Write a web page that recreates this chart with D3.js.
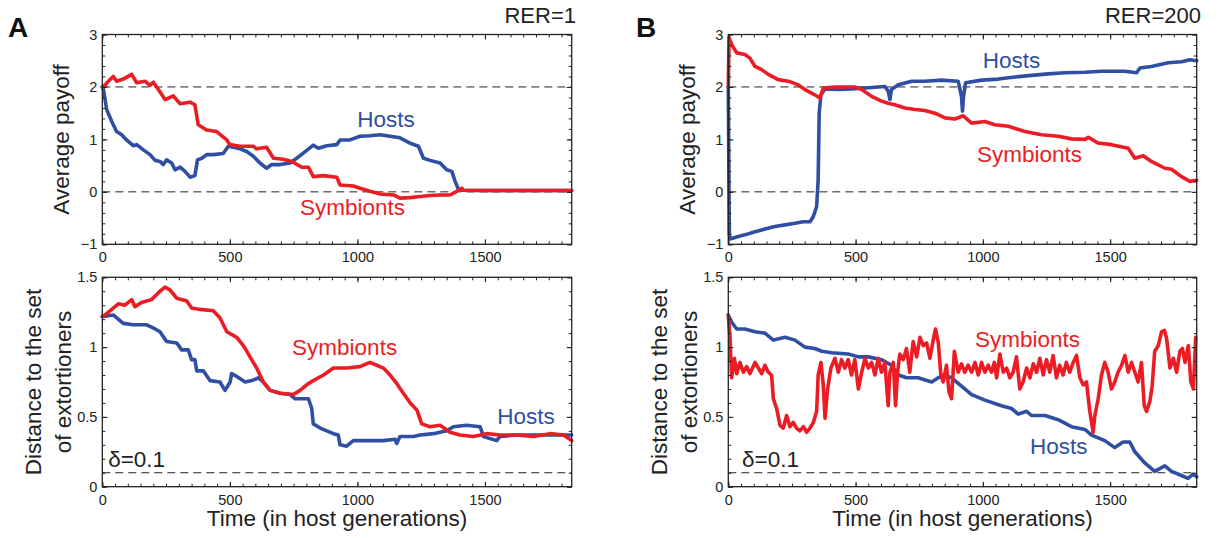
<!DOCTYPE html>
<html>
<head>
<meta charset="utf-8">
<script src="https://cdn.jsdelivr.net/npm/d3@7"></script>
<style>
  html, body { margin: 0; padding: 0; background: #fff; }
  svg { display: block; font-family: "Liberation Sans", Arial, Helvetica, sans-serif; }
</style>
</head>
<body>
<svg id="chart" width="1225" height="538"></svg>
<script>
// ---------------- DATA ----------------
const xTicks = [0, 500, 1000, 1500];
const payoffTicks = [-1, 0, 1, 2, 3];
const distTicks = [0, 0.5, 1, 1.5];
const payoffRefLines = [0, 2];
const distRefLines = [0.1];

// Panel A (RER=1) – average payoff
const aHostPayT = [0,4,17,37,56,76,95,121,135,161,187,207,226,239,252,272,285,305,324,344,363,373,390,409,435,474,494,514,540,566,592,618,644,664,697,736,762,788,827,847,880,919,932,971,1010,1049,1089,1128,1167,1206,1239,1259,1285,1324,1350,1370,1383,1396,1409,1500,1600,1700,1840];
const aHostPayV = [2.0,1.97,1.57,1.34,1.15,1.09,0.99,0.88,0.90,0.80,0.71,0.60,0.58,0.52,0.61,0.55,0.42,0.47,0.39,0.28,0.31,0.61,0.64,0.71,0.71,0.73,0.87,0.85,0.82,0.77,0.68,0.55,0.45,0.52,0.52,0.55,0.64,0.74,0.89,0.83,0.88,0.90,0.99,0.99,1.06,1.07,1.09,1.06,1.03,0.93,0.87,0.64,0.60,0.55,0.42,0.39,0.20,0.05,0.03,0.025,0.025,0.025,0.025];
const aSymPayT = [0,4,24,43,56,82,115,135,167,187,200,220,246,278,305,344,363,376,409,448,488,500,540,592,605,644,671,710,742,782,808,827,866,919,932,984,1010,1049,1089,1141,1167,1206,1246,1285,1324,1363,1389,1409,1415,1500,1600,1700,1840];
const aSymPayV = [2.0,2.0,2.11,2.20,2.11,2.15,2.24,2.08,2.11,2.03,2.09,1.95,1.76,1.83,1.68,1.71,1.66,1.28,1.18,1.15,0.99,0.90,0.87,0.87,0.82,0.85,0.64,0.62,0.58,0.47,0.47,0.29,0.31,0.28,0.13,0.11,0.07,0.01,-0.04,-0.06,-0.12,-0.11,-0.09,-0.07,-0.06,-0.06,0.01,0.07,0.03,0.025,0.025,0.025,0.025];

// Panel A (RER=1) – distance to extortioners
const aHostDistT = [0,4,43,82,121,174,207,226,252,292,311,337,350,363,370,396,422,461,481,501,507,527,560,586,612,631,658,697,736,756,808,821,827,854,906,925,932,958,984,1036,1102,1148,1154,1167,1220,1246,1298,1350,1376,1428,1481,1494,1546,1559,1624,1690,1755,1840];
const aHostDistV = [1.22,1.22,1.23,1.17,1.16,1.16,1.13,1.11,1.04,1.03,0.98,0.98,0.91,0.91,0.83,0.83,0.76,0.75,0.69,0.75,0.81,0.79,0.75,0.76,0.78,0.75,0.69,0.67,0.66,0.63,0.63,0.56,0.45,0.42,0.38,0.37,0.30,0.29,0.33,0.33,0.33,0.34,0.31,0.36,0.36,0.37,0.38,0.40,0.43,0.44,0.43,0.36,0.33,0.36,0.37,0.37,0.37,0.37];
const aSymDistT = [0,4,37,63,89,115,128,154,193,226,246,265,292,331,350,383,435,461,488,527,553,579,605,631,658,697,749,775,801,827,867,906,958,1010,1049,1076,1102,1128,1154,1180,1207,1233,1252,1285,1324,1363,1402,1455,1507,1559,1624,1690,1755,1808,1840];
const aSymDistV = [1.22,1.22,1.27,1.31,1.30,1.34,1.29,1.32,1.34,1.40,1.43,1.41,1.35,1.33,1.28,1.27,1.26,1.21,1.11,1.07,1.01,0.93,0.85,0.75,0.69,0.67,0.66,0.69,0.73,0.76,0.80,0.85,0.85,0.86,0.89,0.87,0.85,0.80,0.74,0.67,0.60,0.55,0.45,0.43,0.44,0.39,0.37,0.36,0.38,0.37,0.37,0.36,0.38,0.37,0.33];

// Panel B (RER=200) – average payoff
const bHostPayT = [0,4,7,39,65,105,144,183,223,262,295,321,334,347,353,357,364,380,432,484,537,589,615,628,635,641,668,720,772,838,903,916,920,924,932,995,1060,1126,1191,1257,1322,1401,1466,1558,1604,1617,1662,1728,1780,1813,1840];
const bHostPayV = [2.0,-0.8,-0.90,-0.85,-0.82,-0.76,-0.71,-0.66,-0.63,-0.60,-0.57,-0.57,-0.47,-0.28,0.23,1.50,1.85,1.96,1.95,1.96,1.98,2.00,2.01,1.92,1.76,1.95,2.04,2.11,2.11,2.13,2.11,1.82,1.54,1.82,2.08,2.13,2.15,2.19,2.22,2.25,2.27,2.28,2.30,2.30,2.27,2.36,2.39,2.46,2.48,2.52,2.50];
const bSymPayT = [0,3,13,33,65,85,105,131,157,196,236,275,301,340,360,373,419,497,524,563,602,628,654,694,733,772,812,851,890,923,956,1008,1047,1100,1165,1230,1296,1348,1401,1414,1453,1505,1571,1597,1630,1662,1715,1741,1780,1813,1840];
const bSymPayV = [2.0,2.94,2.81,2.65,2.62,2.55,2.39,2.33,2.24,2.14,2.11,2.04,1.95,1.85,1.79,1.98,2.00,2.00,1.95,1.82,1.73,1.69,1.66,1.60,1.57,1.55,1.50,1.41,1.39,1.45,1.31,1.34,1.28,1.25,1.15,1.09,1.06,1.01,1.00,1.04,0.93,0.90,0.83,0.64,0.69,0.58,0.45,0.43,0.29,0.20,0.22];

// Panel B (RER=200) – distance to extortioners
const bHostDistT = [0,13,33,65,105,144,177,223,262,301,340,367,406,471,511,550,602,641,668,700,746,799,825,844,877,916,956,1008,1073,1113,1139,1172,1191,1244,1296,1348,1401,1427,1479,1518,1551,1577,1597,1636,1675,1715,1741,1780,1806,1826,1840];
const bHostDistV = [1.23,1.18,1.13,1.13,1.11,1.10,1.05,1.07,1.05,1.00,0.99,0.97,0.96,0.95,0.93,0.93,0.91,0.87,0.80,0.78,0.78,0.75,0.78,0.80,0.78,0.72,0.66,0.62,0.58,0.56,0.52,0.54,0.51,0.51,0.48,0.43,0.41,0.37,0.33,0.28,0.32,0.32,0.25,0.17,0.11,0.15,0.11,0.08,0.06,0.09,0.07];
const bSymDistT = [0,7,13,24,33,46,59,72,85,105,118,131,144,157,170,177,190,203,216,229,242,255,268,281,295,308,321,334,347,353,364,373,380,390,403,419,432,445,458,471,484,497,511,524,537,550,563,576,589,602,615,628,635,648,657,665,674,687,700,713,726,740,753,766,779,792,805,814,825,835,844,857,867,877,888,903,916,929,942,956,969,982,995,1008,1021,1034,1045,1054,1067,1080,1093,1106,1119,1132,1145,1158,1172,1185,1198,1211,1224,1237,1250,1263,1276,1289,1302,1315,1328,1341,1355,1368,1381,1394,1407,1420,1433,1440,1453,1466,1479,1492,1505,1518,1531,1545,1558,1571,1584,1597,1610,1623,1634,1643,1656,1665,1675,1689,1702,1713,1722,1735,1748,1761,1774,1784,1794,1807,1817,1827,1836];
const bSymDistV = [1.23,1.06,0.78,0.92,0.81,0.89,0.82,0.86,0.81,0.89,0.85,0.81,0.87,0.82,0.80,0.63,0.56,0.44,0.42,0.51,0.43,0.46,0.42,0.40,0.43,0.39,0.42,0.46,0.54,0.80,0.89,0.73,0.49,0.70,0.85,0.92,0.82,0.91,0.85,0.91,0.80,0.91,0.70,0.82,0.92,0.85,0.89,0.80,0.92,0.82,0.89,0.58,0.82,0.89,0.58,0.82,0.95,0.91,0.99,0.82,1.04,0.93,1.07,1.01,1.03,0.92,1.05,1.13,1.03,0.80,0.75,0.87,0.68,0.63,0.97,0.82,0.88,0.82,0.87,0.82,0.89,0.80,0.89,0.82,0.87,0.82,0.89,0.78,0.95,0.82,0.85,0.78,0.82,0.93,0.70,0.75,0.85,0.78,0.88,0.82,0.92,0.80,0.91,0.82,0.94,0.78,0.87,0.80,0.89,0.82,0.89,0.94,0.78,0.73,0.75,0.54,0.39,0.51,0.63,0.80,0.89,0.82,0.70,0.75,0.82,0.87,0.94,0.82,0.89,0.82,0.75,0.89,0.58,0.54,0.61,0.72,0.97,1.01,1.11,1.12,1.06,0.85,0.92,0.82,0.97,0.99,0.89,1.01,0.75,0.70,1.07];

// text
const panelLetters = ["A", "B"];
const rerLabels = ["RER=1", "RER=200"];
const seriesNames = ["Hosts", "Symbionts"];
const yTitleTop = ["Average payoff"];
const yTitleBottom = ["Distance to the set", "of extortioners"];
const xTitle = "Time (in host generations)";
const deltaLabel = "\u03B4=0.1";
const xDomain = [0, 1840];
const payoffDomain = [-1, 3];
const distDomain = [0, 1.5];

// label anchors in data coordinates [t, value]
const labelPos = {
  aTopHosts: [999, 1.24], aTopSym: [775, -0.44],
  aBotSym: [744, 0.943], aBotHosts: [1548, 0.449], aBotDelta: [23, 0.141],
  bTopHosts: [1000, 2.37], bTopSym: [977, 0.57],
  bBotSym: [969, 1.0], bBotHosts: [1185, 0.234], bBotDelta: [54, 0.141]
};

// --------------- DRAW ----------------
const BLUE = "#2f4fa3", RED = "#ec1c24";
const svg = d3.select("#chart");
const cols = [{x0: 102.3, x1: 571.7}, {x0: 728.3, x1: 1196.7}];
const rows = [{y0: 34.5, y1: 244.3}, {y0: 277.3, y1: 486.7}];

function range(a, b, s) { const r = []; for (let v = a; v <= b + 1e-9; v += s) r.push(+v.toFixed(6)); return r; }

function drawPlot(col, row, cfg) {
  const x = d3.scaleLinear(xDomain, [col.x0, col.x1]);
  const y = d3.scaleLinear(cfg.domain, [row.y1, row.y0]);
  const g = svg.append("g");

  // reference dashed lines
  g.selectAll(".ref").data(cfg.refs).join("line")
    .attr("x1", col.x0).attr("x2", col.x1)
    .attr("y1", d => y(d)).attr("y2", d => y(d))
    .attr("stroke", "#222").attr("stroke-width", 1).attr("stroke-dasharray", "8,5");

  // series
  const line = d3.line().x(d => x(d[0])).y(d => y(d[1])).curve(d3.curveLinear);
  cfg.series.forEach(s => {
    const pts = s.t.map((t, i) => [t, s.v[i]]);
    g.append("path").datum(pts).attr("d", line)
      .attr("fill", "none").attr("stroke", s.color).attr("stroke-width", 3.6)
      .attr("stroke-linejoin", "round").attr("stroke-linecap", "round");
  });

  // minor ticks
  const xMinor = range(0, 1800, 50);
  const yMinor = range(cfg.domain[0], cfg.domain[1], cfg.minorStep);
  const styleAx = sel => { sel.select(".domain").remove(); sel.selectAll("line").attr("stroke", "#222").attr("stroke-width", 1); };
  g.append("g").attr("transform", `translate(0,${row.y1})`).call(d3.axisBottom(x).tickValues(xMinor).tickSize(-3).tickFormat("")).call(styleAx);
  g.append("g").attr("transform", `translate(0,${row.y0})`).call(d3.axisTop(x).tickValues(xMinor).tickSize(-3).tickFormat("")).call(styleAx);
  g.append("g").attr("transform", `translate(${col.x0},0)`).call(d3.axisLeft(y).tickValues(yMinor).tickSize(-3).tickFormat("")).call(styleAx);
  g.append("g").attr("transform", `translate(${col.x1},0)`).call(d3.axisRight(y).tickValues(yMinor).tickSize(-3).tickFormat("")).call(styleAx);

  // major ticks + labels
  const fmtY = cfg.fmt;
  const bx = g.append("g").attr("transform", `translate(0,${row.y1})`)
    .call(d3.axisBottom(x).tickValues(xTicks).tickSize(-5).tickPadding(7.7).tickFormat(d3.format("d")));
  const lx = g.append("g").attr("transform", `translate(${col.x0},0)`)
    .call(d3.axisLeft(y).tickValues(cfg.ticks).tickSize(-5).tickPadding(5).tickFormat(fmtY));
  const tx = g.append("g").attr("transform", `translate(0,${row.y0})`)
    .call(d3.axisTop(x).tickValues(xTicks).tickSize(-5).tickFormat(""));
  const rx = g.append("g").attr("transform", `translate(${col.x1},0)`)
    .call(d3.axisRight(y).tickValues(cfg.ticks).tickSize(-5).tickFormat(""));
  [bx, lx, tx, rx].forEach(a => {
    a.select(".domain").remove();
    a.selectAll("line").attr("stroke", "#222").attr("stroke-width", 1.1);
    a.selectAll("text").attr("font-size", "14.5px").attr("fill", "#222")
      .attr("font-family", "'Liberation Sans', Arial, sans-serif");
  });

  // box
  g.append("rect").attr("x", col.x0).attr("y", row.y0)
    .attr("width", col.x1 - col.x0).attr("height", row.y1 - row.y0)
    .attr("fill", "none").attr("stroke", "#222").attr("stroke-width", 1.3);

  // labels
  cfg.labels.forEach(l => {
    g.append("text").attr("x", x(l.pos[0])).attr("y", y(l.pos[1]))
      .attr("font-size", "22.5px").attr("fill", l.color).text(l.text);
  });

  // y title
  const cy = (row.y0 + row.y1) / 2;
  cfg.yTitle.forEach((t, i) => {
    g.append("text").attr("transform", `translate(${col.x0 + cfg.yTitleOff[i]},${cy}) rotate(-90)`)
      .attr("text-anchor", "middle").attr("font-size", "22.5px").attr("fill", "#222").text(t);
  });
  return {x, y};
}

const L = labelPos;
[0, 1].forEach(c => {
  const col = cols[c];
  const isA = c === 0;
  drawPlot(col, rows[0], {
    domain: payoffDomain, ticks: payoffTicks, minorStep: 0.2, refs: payoffRefLines,
    fmt: d3.format("d"),
    series: isA
      ? [{t: aHostPayT, v: aHostPayV, color: BLUE}, {t: aSymPayT, v: aSymPayV, color: RED}]
      : [{t: bHostPayT, v: bHostPayV, color: BLUE}, {t: bSymPayT, v: bSymPayV, color: RED}],
    labels: isA
      ? [{text: seriesNames[0], pos: L.aTopHosts, color: BLUE}, {text: seriesNames[1], pos: L.aTopSym, color: RED}]
      : [{text: seriesNames[0], pos: L.bTopHosts, color: BLUE}, {text: seriesNames[1], pos: L.bTopSym, color: RED}],
    yTitle: yTitleTop, yTitleOff: [-33.5]
  });
  drawPlot(col, rows[1], {
    domain: distDomain, ticks: distTicks, minorStep: 0.1, refs: distRefLines,
    fmt: d => d === 0 ? "0" : d3.format("~g")(d),
    series: isA
      ? [{t: aHostDistT, v: aHostDistV, color: BLUE}, {t: aSymDistT, v: aSymDistV, color: RED}]
      : [{t: bHostDistT, v: bHostDistV, color: BLUE}, {t: bSymDistT, v: bSymDistV, color: RED}],
    labels: isA
      ? [{text: seriesNames[1], pos: L.aBotSym, color: RED}, {text: seriesNames[0], pos: L.aBotHosts, color: BLUE}, {text: deltaLabel, pos: L.aBotDelta, color: "#222"}]
      : [{text: seriesNames[1], pos: L.bBotSym, color: RED}, {text: seriesNames[0], pos: L.bBotHosts, color: BLUE}, {text: deltaLabel, pos: L.bBotDelta, color: "#222"}],
    yTitle: yTitleBottom, yTitleOff: [-61.5, -31]
  });
  // x title
  svg.append("text").attr("x", (col.x0 + col.x1) / 2).attr("y", 526)
    .attr("text-anchor", "middle").attr("font-size", "22.5px").attr("fill", "#222").text(xTitle);
  // panel letter
  svg.append("text").attr("x", isA ? 8 : 636).attr("y", 37)
    .attr("font-size", "28px").attr("font-weight", "bold").attr("fill", "#111").text(panelLetters[c]);
  // RER label
  svg.append("text").attr("x", isA ? 576 : 1201).attr("y", 23)
    .attr("text-anchor", "end").attr("font-size", "22px").attr("fill", "#222").text(rerLabels[c]);
});
</script>
</body>
</html>
